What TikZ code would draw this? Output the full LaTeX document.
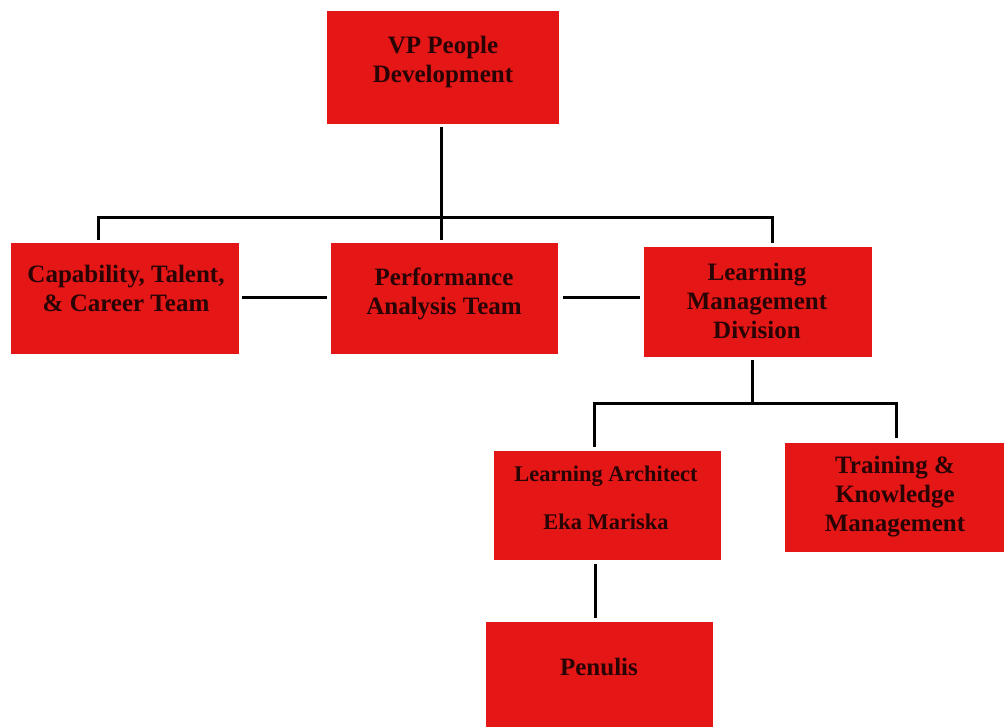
\documentclass[tikz,border=0pt]{standalone}
\usepackage{fontspec}
\setmainfont{Liberation Serif}
\usetikzlibrary{calc}
\definecolor{boxred}{RGB}{228,22,22}
\definecolor{txt}{RGB}{40,4,4}
\begin{document}
\begin{tikzpicture}[x=1pt,y=-1pt,
  box/.style={fill=boxred, draw=none, inner sep=0pt},
  lbl/.style={text=txt, font=\bfseries\fontsize{25}{29}\selectfont, align=center, inner sep=0pt},
  conn/.style={line width=3pt, draw=black}]
\useasboundingbox (0,0) rectangle (1004,726);
% boxes
\node[box, minimum width=232pt, minimum height=113pt] (vp)    at (443,67.5)  {};
\node[box, minimum width=228pt, minimum height=111pt] (cap)   at (125,298.5) {};
\node[box, minimum width=227pt, minimum height=111pt] (perf)  at (444.5,298.5) {};
\node[box, minimum width=228pt, minimum height=110pt] (lmd)   at (758,302)   {};
\node[box, minimum width=227pt, minimum height=109pt] (arch)  at (607.5,505.5) {};
\node[box, minimum width=225pt, minimum height=109pt] (train) at (897.5,497.5) {};
\node[box, minimum width=227pt, minimum height=108pt] (pen)   at (599.5,676) {};
% labels
\node[lbl] (vpt)    at (443,61.5)  {VP People\\Development};
\node[lbl] (capt)   at (126,288.5) {Capability, Talent,\\\& Career Team};
\node[lbl] (perft)  at (444,293.5) {Performance\\Analysis Team};
\node[lbl] (lmdt)   at (757,301)   {Learning\\Management\\Division};
\node[lbl, font=\bfseries\fontsize{22.4}{26}\selectfont] (archt) at (606,497.5) {Learning Architect\\[22pt]Eka Mariska};
\node[lbl] (traint) at (895,497)   {Training \&\\Knowledge\\Management};
\node[lbl] (pent)   at (599,667)   {Penulis};
% connectors
\coordinate (bus) at (441,218);
\draw[conn] ($(vp.south)+(-2,3)$) -- (bus);
\draw[conn] ($(perf.north)+(-3.5,-3)$) -- (bus);
\draw[conn] ($(cap.north)+(-27,-3)$) |- ($(lmd.north)+(14,-29)$) -- ($(lmd.north)+(14,-4)$);
\draw[conn] ($(cap.east)+(3,-1.5)$) -- ($(perf.west)+(-4,-1.5)$);
\draw[conn] ($(perf.east)+(5,-1.5)$) -- ($(lmd.west)+(-4,-5)$);
\coordinate (bus2) at (752,404);
\draw[conn] ($(lmd.south)+(-6,3)$) -- (bus2);
\draw[conn] ($(arch.north)+(-13.5,-4)$) |- ($(train.north)+(-1.5,-39)$) -- ($(train.north)+(-1.5,-5)$);
\draw[conn] ($(arch.south)+(-12.5,4)$) -- ($(pen.north)+(-4.5,-4)$);
\end{tikzpicture}
\end{document}
